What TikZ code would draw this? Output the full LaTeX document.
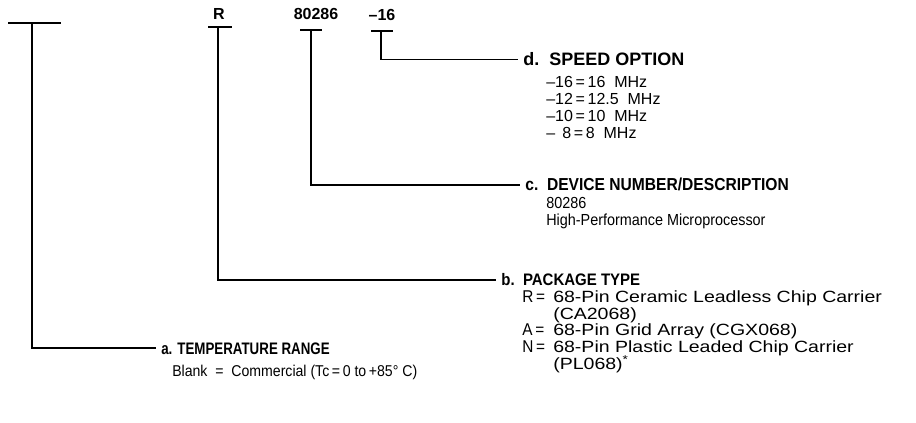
\documentclass[tikz,border=0pt]{standalone}
\usepackage{fontspec}
\setmainfont{Liberation Sans}
\newfontfamily\narrowfont[FakeStretch=0.9]{Liberation Sans}
\newfontfamily\condfont[FakeStretch=0.8]{Liberation Sans}
\newfontfamily\widefont[FakeStretch=1.2]{Liberation Sans}
\usetikzlibrary{positioning}

\tikzset{
  field/.style={anchor=base, inner sep=0pt, font=\bfseries\fontsize{12}{14}\selectfont},
  head/.style={anchor=base west, inner sep=0pt, outer xsep=4pt, text depth=0pt,
    font=\narrowfont\bfseries\fontsize{13}{15}\selectfont},
  entry/.style={anchor=base west, inner sep=0pt, font=\narrowfont\fontsize{12}{14}\selectfont},
  bar/.style={line width=1.8pt},
  lead/.style={line width=1.4pt}
}

\begin{document}
\begin{tikzpicture}[x=0.75pt,y=-0.75pt]
  \useasboundingbox (0,0) rectangle (916,423);

  % part number fields
  \node[field] (fldR) at (219,20) {R};
  \node[field] (fldDev) at (316,20) {80286};
  \node[field] (fldSpd) at (382,21) {\textendash16};

  % bars under the fields
  \draw[bar] (8,23) -- (61,23);
  \draw[bar] (208,27) -- (232,27);
  \draw[bar] (300,30) -- (322,30);
  \draw[bar] (371,31) -- (393,31);
  \coordinate (barA) at (32,23);
  \coordinate (barB) at (218,27);
  \coordinate (barC) at (311,30);
  \coordinate (barD) at (381,31);

  % d. speed option
  \node[head, font=\bfseries\fontsize{13.5}{15}\selectfont] (headD) at (518,66) {d.\ \ SPEED OPTION};
  \foreach \n/\txt in {1/\textendash16\,=\,16\ \ MHz, 2/\textendash12\,=\,12.5\ \ MHz,
      3/\textendash10\,=\,10\ \ MHz, 4/\textendash\ \,8\,=\,8\ \ MHz}
    \node[entry, font=\fontsize{12}{14}\selectfont] (spd\n) at (546,71+17*\n) {\txt};

  % c. device number
  \node[head] (headC) at (520,191) {c.\ \ DEVICE NUMBER/DESCRIPTION};
  \node[entry] (dev1) at (546,209) {80286};
  \node[entry] (dev2) at (546,226) {High-Performance Microprocessor};

  % b. package type
  \node[head, font=\narrowfont\bfseries\fontsize{12.5}{14}\selectfont] (headB) at (496,286) {b.\ \ PACKAGE TYPE};
  \foreach \n/\key/\txt in {1/R\,=/68-Pin Ceramic Leadless Chip Carrier, 2//(CA2068),
      3/A\,=/68-Pin Grid Array (CGX068), 4/N\,=/68-Pin Plastic Leaded Chip Carrier,
      5//(PL068)\textsuperscript{*}} {
    \node[entry, font=\narrowfont\fontsize{12.8}{14}\selectfont] (pkgKey\n) at (522,286+16.6*\n) {\key};
    \node[entry, font=\widefont\fontsize{12.2}{14}\selectfont] (pkg\n) at (553,286+16.6*\n) {\txt};
  }

  % a. temperature range
  \node[head, font=\condfont\bfseries\fontsize{12.5}{14}\selectfont] (headA) at (156,354) {a. TEMPERATURE RANGE};
  \node[entry, font=\narrowfont\fontsize{11.75}{14}\selectfont] (temp1) at (172,377) {Blank\ \ =\ \ Commercial (Tc\,=\,0 to\,+85\textdegree\ C)};

  % leads
  \draw[lead] (barA) |- (headA.west);
  \draw[lead] (barB) |- (headB.west);
  \draw[lead] (barC) |- (headC.west);
  \draw[lead] (barD) |- (headD.west);
\end{tikzpicture}
\end{document}
